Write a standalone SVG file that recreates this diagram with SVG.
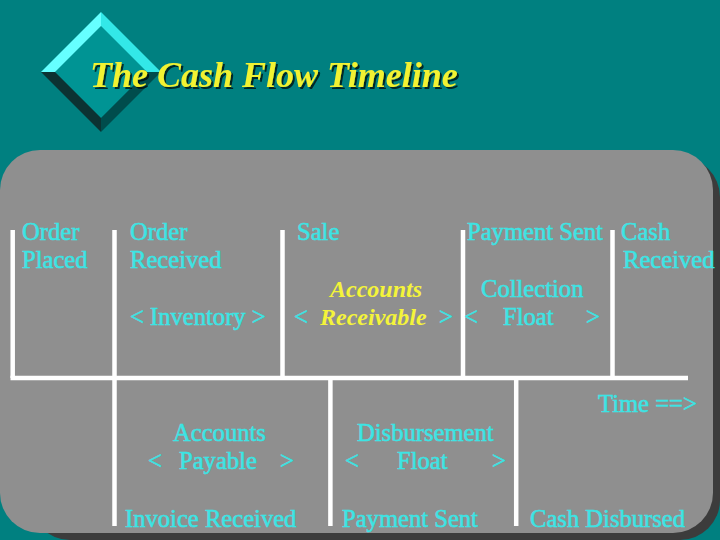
<svg xmlns="http://www.w3.org/2000/svg" width="720" height="540" viewBox="0 0 720 540">
  <style>
    .c { font-family: "Liberation Serif", "Times New Roman", serif; font-size: 24.6px; fill: #3ce4e4; stroke: #3ce4e4; stroke-width: 0.55; }
    .y { font-family: "Liberation Serif", "Times New Roman", serif; font-size: 24px; font-style: italic; font-weight: bold; fill: #f4f43a; }
    .ln { stroke: #ffffff; stroke-width: 4.5; fill: none; stroke-linecap: butt; }
  </style>
  <defs>
    <filter id="tshadow" x="-5%" y="-20%" width="110%" height="150%">
      <feGaussianBlur in="SourceAlpha" stdDeviation="0.6"/>
      <feOffset dx="2" dy="2"/>
      <feComponentTransfer><feFuncA type="linear" slope="0.7"/></feComponentTransfer>
      <feMerge><feMergeNode/><feMergeNode in="SourceGraphic"/></feMerge>
    </filter>
  </defs>

  <rect x="0" y="0" width="720" height="540" fill="#008080"/>

  <g id="title-diamond">
    <polygon points="101,26 147,72 101,118 55,72" fill="#009494"/>
    <polygon points="41,72 101,12 101,26 55,72" fill="#66ffff"/>
    <polygon points="101,12 161,72 147,72 101,26" fill="#33e8e8"/>
    <polygon points="161,72 101,132 101,118 147,72" fill="#004c4c"/>
    <polygon points="41,72 101,132 101,118 55,72" fill="#0c3232"/>
  </g>

  <g id="title">
    <text x="90" y="87" font-family="'Liberation Serif', 'Times New Roman', serif" font-size="36" font-style="italic" font-weight="bold" fill="#f2f230" filter="url(#tshadow)">The Cash Flow Timeline</text>
  </g>

  <g id="panel">
    <rect x="30" y="157" width="690" height="383" rx="40" ry="40" fill="#3c3c3c"/>
    <rect x="0" y="150" width="713" height="383" rx="40" ry="40" fill="#8f8f8f"/>
  </g>

  <g id="connectors">
    <line class="ln" x1="10.5" y1="378" x2="688" y2="378"/>
    <line class="ln" x1="12.7" y1="230" x2="12.7" y2="378"/>
    <line class="ln" x1="114.5" y1="230" x2="114.5" y2="526"/>
    <line class="ln" x1="282.5" y1="230" x2="282.5" y2="378"/>
    <line class="ln" x1="463" y1="230" x2="463" y2="378"/>
    <line class="ln" x1="612.5" y1="230" x2="612.5" y2="378"/>
    <line class="ln" x1="330.4" y1="378" x2="330.4" y2="526"/>
    <line class="ln" x1="516.2" y1="378" x2="516.2" y2="526"/>
  </g>

  <g id="order-placed">
    <text class="c" x="22" y="240">Order</text>
    <text class="c" x="22" y="268">Placed</text>
  </g>
  <g id="order-received">
    <text class="c" x="130" y="240">Order</text>
    <text class="c" x="130" y="268">Received</text>
  </g>
  <g id="sale">
    <text class="c" x="297" y="240">Sale</text>
  </g>
  <g id="payment-sent-top">
    <text class="c" x="467" y="240">Payment Sent</text>
  </g>
  <g id="cash-received">
    <text class="c" x="621" y="240">Cash</text>
    <text class="c" x="623" y="268">Received</text>
  </g>
  <g id="inventory">
    <text class="c" x="130" y="325">&lt; Inventory &gt;</text>
  </g>
  <g id="accounts-receivable">
    <text class="y" x="330" y="297">Accounts</text>
    <text class="c" x="294" y="325">&lt;</text>
    <text class="y" x="320" y="325">Receivable</text>
    <text class="c" x="439" y="325">&gt;</text>
  </g>
  <g id="collection-float">
    <text class="c" x="481" y="297">Collection</text>
    <text class="c" x="464" y="325">&lt;</text>
    <text class="c" x="503" y="325">Float</text>
    <text class="c" x="586" y="325">&gt;</text>
  </g>
  <g id="time">
    <text class="c" x="598" y="412">Time ==&gt;</text>
  </g>
  <g id="accounts-payable">
    <text class="c" x="173" y="441">Accounts</text>
    <text class="c" x="148" y="469">&lt;</text>
    <text class="c" x="179" y="469">Payable</text>
    <text class="c" x="280" y="469">&gt;</text>
  </g>
  <g id="disbursement-float">
    <text class="c" x="357" y="441">Disbursement</text>
    <text class="c" x="345" y="469">&lt;</text>
    <text class="c" x="397" y="469">Float</text>
    <text class="c" x="492" y="469">&gt;</text>
  </g>
  <g id="invoice-received">
    <text class="c" x="125" y="527">Invoice Received</text>
  </g>
  <g id="payment-sent-bottom">
    <text class="c" x="342" y="527">Payment Sent</text>
  </g>
  <g id="cash-disbursed">
    <text class="c" x="530" y="527">Cash Disbursed</text>
  </g>
</svg>
